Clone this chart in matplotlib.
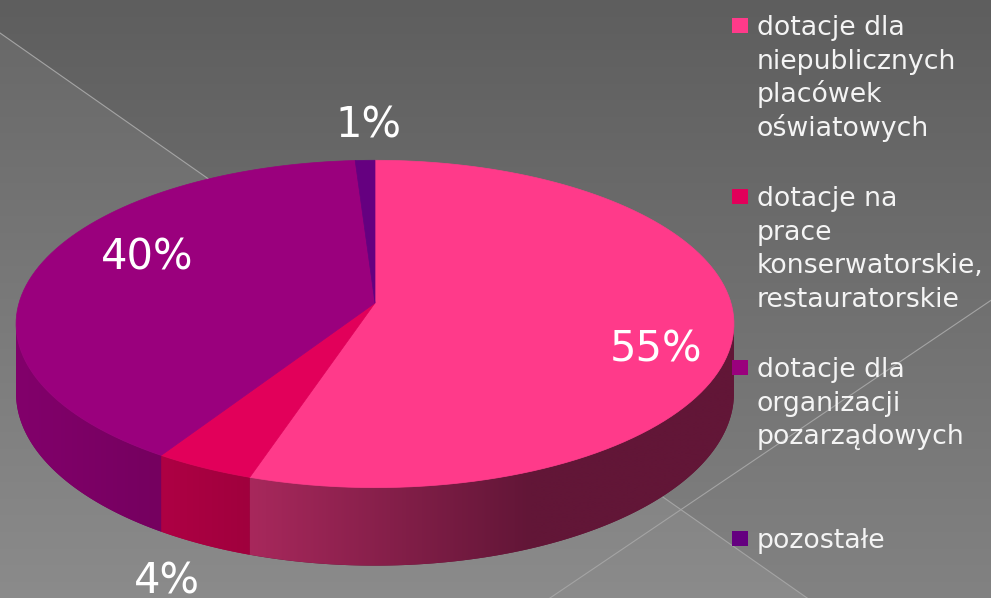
import numpy as np
import matplotlib
matplotlib.use("Agg")
import matplotlib.pyplot as plt
from matplotlib.patches import Polygon, Rectangle
from matplotlib.colors import to_rgb

# data
categories = [
    ["dotacje dla", "niepublicznych", "placówek", "oświatowych"],
    ["dotacje na", "prace", "konserwatorskie,", "restauratorskie"],
    ["dotacje dla", "organizacji", "pozarządowych"],
    ["pozostałe"],
]
values = [55, 4, 40, 1]
pct_labels = ["55%", "4%", "40%", "1%"]

# styles
top_colors = ["#FF3A8A", "#E2005A", "#9A007D", "#650080"]
wall_light = ["#A8285C", "#AE0044", "#82006B", "#55006B"]
wall_dark = ["#621637", "#A0003D", "#75005F", "#4A005E"]
label_pos = [(656, 349), (167, 582), (147, 258), (368, 125)]

W, H = 991, 598
CX, CY = 375, 303          # apex of the pie on screen
RX, RY = 356, 161
K = 0.128                  # perspective strength
DEPTH = 68

plt.rcParams['font.family'] = ['DejaVu Sans']

fig = plt.figure(figsize=(W / 100, H / 100), dpi=100)
ax = fig.add_axes([0, 0, 1, 1])
ax.set_axis_off()

# background: vertical grey gradient, lighter wedge under the diagonal line
yy, xx = np.mgrid[0:H, 0:W]
bg = 94 + 36 * yy / H
bg = bg + 9 * (yy > 33 + 0.70 * xx)
bg = np.clip(bg, 0, 255) / 255.0
ax.imshow(np.dstack([bg, bg, bg]), extent=[0, W, H, 0], aspect='auto', zorder=0)
ax.plot([0, 850], [33, 33 + 0.70 * 850], color="#a4a4a4", lw=0.8, zorder=1)
ax.plot([550, 991], [598, 598 - 0.675 * 441], color="#a4a4a4", lw=0.8, zorder=1)


def rim(t, drop=0.0):
    u = np.sin(t)
    v = -np.cos(t)
    w = 1 - K * v
    return CX + RX * u / w, CY + (RY * v + drop) / w


frac = np.array(values, dtype=float) / sum(values)
edges = np.concatenate([[0], np.cumsum(frac)]) * 2 * np.pi
t_right = np.arccos(-K)
t_left = 2 * np.pi - t_right

# side walls
for i in range(len(values)):
    a0 = max(edges[i], t_right)
    a1 = min(edges[i + 1], t_left)
    if a1 <= a0:
        continue
    t = np.linspace(a0, a1, 120)
    xt, yt = rim(t)
    xb, yb = rim(t, DEPTH)
    pts = np.column_stack([np.concatenate([xt, xb[::-1]]),
                           np.concatenate([yt, yb[::-1]])])
    poly = Polygon(pts, closed=True, facecolor=wall_dark[i], edgecolor='none', zorder=2)
    ax.add_patch(poly)
    x0, x1 = pts[:, 0].min(), pts[:, 0].max()
    y0, y1 = pts[:, 1].min(), pts[:, 1].max()
    n = max(int(x1 - x0), 2)
    xs = np.linspace(x0, x1, n)
    f = np.clip((xs - x0) / min(280, x1 - x0), 0, 1)[:, None]
    c = np.array(to_rgb(wall_light[i])) * (1 - f) + np.array(to_rgb(wall_dark[i])) * f
    im = ax.imshow(c[None, :, :], extent=[x0, x1, y1, y0], aspect='auto', zorder=3,
                   interpolation='bilinear')
    im.set_clip_path(poly)

# top faces
for i in range(len(values)):
    t = np.linspace(edges[i], edges[i + 1], max(int(200 * frac[i]), 4) + 2)
    xt, yt = rim(t)
    pts = np.column_stack([np.concatenate([[CX], xt]), np.concatenate([[CY], yt])])
    ax.add_patch(Polygon(pts, closed=True, facecolor=top_colors[i],
                         edgecolor=top_colors[i], lw=0.5, zorder=4))

# percentage labels
for i, s in enumerate(pct_labels):
    ax.text(label_pos[i][0], label_pos[i][1], s, color='white', fontsize=30,
            ha='center', va='center', zorder=6)

# legend
for i, lines in enumerate(categories):
    ym = 25.5 + i * 171
    ax.add_patch(Rectangle((732, ym - 7.5), 15.5, 15, facecolor=top_colors[i],
                           edgecolor='none', zorder=6))
    for j, line in enumerate(lines):
        ax.text(757, ym + 9.5 + j * 33.7, line, color='#f4f4f4', fontsize=19.3,
                ha='left', va='baseline', zorder=6)

ax.set_xlim(0, W)
ax.set_ylim(H, 0)
fig.savefig("out.png", dpi=100)
